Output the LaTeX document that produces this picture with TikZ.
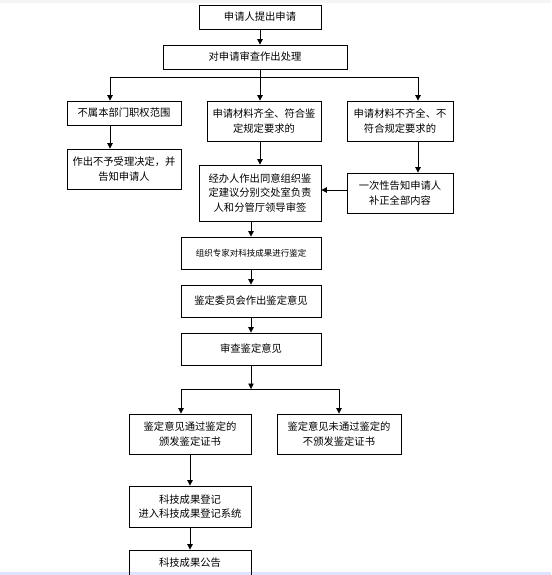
\documentclass[tikz,border=0pt]{standalone}
\usepackage{fontspec}
\setmainfont{Noto Sans CJK SC}
\usetikzlibrary{arrows.meta}
\begin{document}
\begin{tikzpicture}[x=1pt,y=-1pt,
  box/.style={draw=black, line width=0.8pt, align=center, inner sep=0pt,
    font=\fontsize{10.3}{14.5}\selectfont},
  arr/.style={line width=0.8pt, -{Triangle[width=5.5pt,length=5.5pt]}},
  ln/.style={line width=0.8pt}]
\useasboundingbox (0,0) rectangle (551,575);
\clip (0,0) rectangle (551,575);
\fill[gray!8] (0,0) rectangle (551,3);
\fill[blue!12] (0,572) rectangle (551,575);
% nodes
\node[box, minimum width=122, minimum height=24] (b1) at (260,17) {申请人提出申请};
\node[box, minimum width=184, minimum height=24] (b2) at (255,57) {对申请审查作出处理};
\node[box, minimum width=114, minimum height=24] (b3a) at (124,113) {不属本部门职权范围};
\node[box, minimum width=114, minimum height=40] (b3b) at (264,121) {申请材料齐全、符合鉴\\定规定要求的};
\node[box, minimum width=106, minimum height=40] (b3c) at (400,121) {申请材料不齐全、不\\符合规定要求的};
\node[box, minimum width=114, minimum height=40] (b4a) at (124,169) {作出不予受理决定，并\\告知申请人};
\node[box, minimum width=122, minimum height=56] (b4b) at (260,193) {经办人作出同意组织鉴\\定建议分别交处室负责\\人和分管厅领导审签};
\node[box, minimum width=106, minimum height=40] (b4c) at (400,193) {一次性告知申请人\\补正全部内容};
\node[box, minimum width=140, minimum height=32, font=\fontsize{8.5}{12}\selectfont] (b5) at (251,253) {组织专家对科技成果进行鉴定};
\node[box, minimum width=140, minimum height=32] (b6) at (251,301) {鉴定委员会作出鉴定意见};
\node[box, minimum width=140, minimum height=32] (b7) at (251,349) {审查鉴定意见};
\node[box, minimum width=122, minimum height=40] (b8a) at (190,434) {鉴定意见通过鉴定的\\颁发鉴定证书};
\node[box, minimum width=124, minimum height=40] (b8b) at (339,434) {鉴定意见未通过鉴定的\\不颁发鉴定证书};
\node[box, minimum width=122, minimum height=41] (b9) at (190,506.5) {科技成果登记\\进入科技成果登记系统};
\node[box, minimum width=122, minimum height=26] (b10) at (190,563) {科技成果公告};
% junction coordinates
\coordinate (j2) at (260,77);
\coordinate (j2a) at (110,77);
\coordinate (j2c) at (418,77);
\coordinate (j7) at (251,389);
\coordinate (j7a) at (181,389);
\coordinate (j7b) at (339,389);
\coordinate (y41) at (0,190);
% connectors
\draw[arr] (b1.south) -- (b1.south |- b2.north);
\draw[ln] (b2.south -| j2) -- (j2);
\draw[ln] (j2a) -- (j2c);
\draw[arr] (j2a) -- (j2a |- b3a.north);
\draw[arr] (j2) -- (j2 |- b3b.north);
\draw[arr] (j2c) -- (j2c |- b3c.north);
\draw[arr] (b3a.south -| j2a) -- (j2a |- b4a.north);
\draw[arr] (b3b.south -| j2) -- (j2 |- b4b.north);
\draw[arr] (b3c.south -| j2c) -- (j2c |- b4c.north);
\draw[arr] (b4c.west |- y41) -- (b4b.east |- y41);
\draw[arr] (b4b.south -| b5.north) -- (b5.north);
\draw[arr] (b5.south) -- (b6.north);
\draw[arr] (b6.south) -- (b7.north);
\draw[arr] (b7.south) -- (j7);
\draw[ln] (j7a) -- (j7b);
\draw[arr] (j7a) -- (j7a |- b8a.north);
\draw[arr] (j7b) -- (b8b.north);
\draw[arr] (b8a.south) -- (b9.north);
\draw[arr] (b9.south) -- (b10.north);
\end{tikzpicture}
\end{document}
